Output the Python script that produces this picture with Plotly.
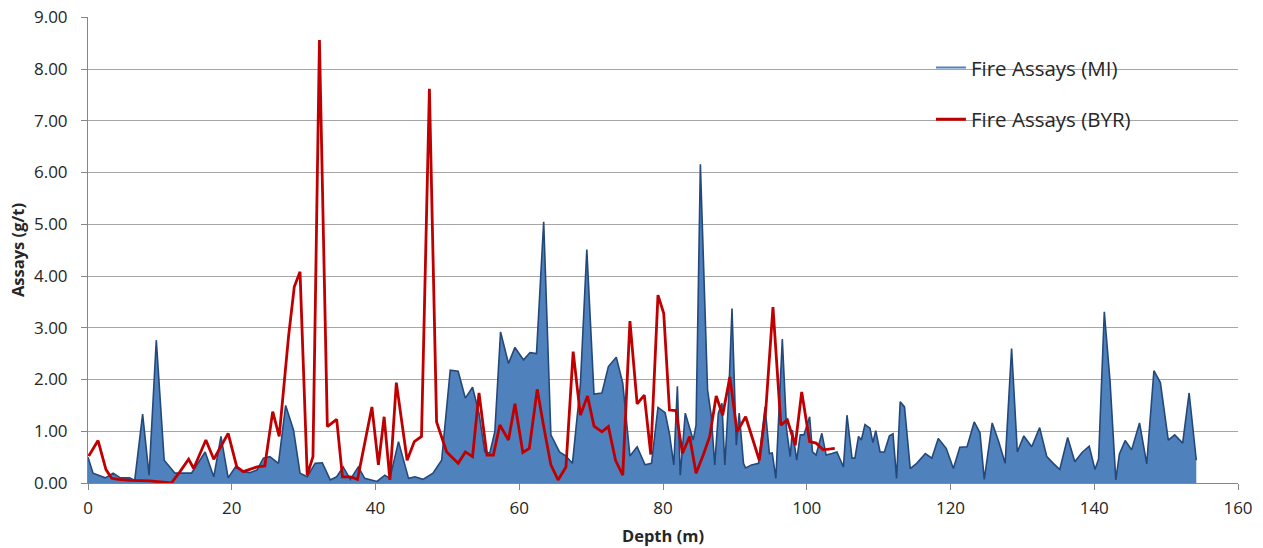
import plotly.graph_objects as go

# Fire Assays (MI) - depth (m) and assay (g/t)
mi_depth = [0.0, 0.7, 2.4, 3.5, 4.5, 5.8, 6.5, 7.6, 8.5, 9.5, 10.6, 12.1, 13.0, 14.4, 16.3, 17.5, 18.5, 19.5,
            20.5, 21.6, 22.5, 23.5, 24.4, 25.3, 26.5, 27.5, 28.6, 29.5, 30.5, 31.6, 32.6, 33.7, 34.6, 35.5,
            36.5, 37.6, 38.5, 40.2, 41.3, 42.0, 43.2, 44.6, 45.5, 46.6, 48.0, 49.2, 50.4, 51.5, 52.5, 53.5,
            54.4, 55.2, 55.9, 56.6, 57.4, 58.5, 59.4, 60.6, 61.5, 62.4, 63.4, 64.4, 65.6, 66.5, 67.4, 68.5,
            69.4, 70.4, 71.5, 72.4, 73.5, 74.4, 75.4, 76.4, 77.5, 78.4, 79.3, 80.3, 80.9, 81.5, 82.0, 82.4,
            83.1, 83.8, 84.2, 84.6, 85.2, 86.2, 86.7, 87.2, 87.7, 88.2, 88.6, 89.1, 89.6, 90.2, 90.6, 91.2,
            91.5, 92.3, 93.3, 94.2, 94.8, 95.2, 95.7, 96.6, 97.2, 97.7, 98.0, 98.6, 99.1, 99.6, 100.4, 100.8,
            101.3, 102.1, 102.7, 103.5, 104.2, 105.1, 105.6, 106.3, 106.7, 107.2, 107.6, 108.1, 108.8, 109.2,
            109.6, 110.2, 110.8, 111.5, 112.0, 112.5, 113.0, 113.6, 114.4, 115.3, 116.5, 117.4, 118.3, 119.4,
            120.4, 121.3, 122.3, 123.3, 124.1, 124.7, 125.8, 126.7, 127.6, 128.5, 129.3, 130.2, 131.3, 132.4,
            133.4, 134.3, 135.2, 136.3, 137.3, 138.3, 139.3, 140.1, 140.6, 141.4, 142.2, 143.0, 143.5, 144.3,
            145.2, 146.3, 147.3, 148.3, 149.2, 150.3, 151.2, 152.3, 153.2, 154.2]
mi_assay = [0.50, 0.19, 0.10, 0.19, 0.10, 0.10, 0.05, 1.33, 0.15, 2.76, 0.44, 0.19, 0.19, 0.19, 0.60, 0.12, 0.90, 0.10,
            0.31, 0.22, 0.20, 0.25, 0.48, 0.51, 0.38, 1.50, 1.02, 0.19, 0.12, 0.38, 0.39, 0.06, 0.12, 0.31,
            0.07, 0.31, 0.09, 0.03, 0.15, 0.09, 0.80, 0.09, 0.12, 0.07, 0.19, 0.44, 2.18, 2.16, 1.64, 1.85,
            1.35, 0.60, 0.58, 0.99, 2.92, 2.31, 2.62, 2.38, 2.52, 2.50, 5.05, 0.93, 0.60, 0.52, 0.38, 1.89,
            4.51, 1.72, 1.74, 2.25, 2.43, 1.93, 0.52, 0.70, 0.35, 0.38, 1.46, 1.36, 0.95, 0.35, 1.87, 0.15,
            1.35, 1.02, 0.83, 1.12, 6.16, 1.80, 1.31, 0.35, 1.35, 1.54, 0.35, 1.54, 3.37, 0.73, 1.35, 0.38,
            0.29, 0.35, 0.38, 1.47, 0.57, 0.58, 0.09, 2.78, 1.02, 0.51, 1.02, 0.44, 0.93, 0.93, 1.28, 0.60,
            0.54, 0.96, 0.54, 0.57, 0.60, 0.31, 1.31, 0.48, 0.48, 0.90, 0.83, 1.13, 1.06, 0.78,
            1.01, 0.60, 0.60, 0.91, 0.95, 0.09, 1.57, 1.47, 0.28, 0.38, 0.57, 0.48, 0.86, 0.67,
            0.28, 0.69, 0.70, 1.18, 0.97, 0.07, 1.16, 0.80, 0.38, 2.60, 0.60, 0.91, 0.70, 1.07,
            0.51, 0.38, 0.26, 0.88, 0.41, 0.59, 0.71, 0.26, 0.46, 3.31, 1.96, 0.06, 0.56, 0.82,
            0.64, 1.16, 0.37, 2.17, 1.94, 0.83, 0.93, 0.77, 1.74, 0.44]

# Fire Assays (BYR)
byr_depth = [0.1, 1.4, 2.5, 3.3, 4.2, 5.8, 8.6, 11.6, 12.8, 14.0, 14.7, 16.4, 17.5, 19.5, 20.7, 21.6, 23.5, 24.6,
             25.7, 26.6, 27.9, 28.7, 29.5, 30.5, 31.3, 32.2, 33.3, 34.6, 35.4, 36.5, 37.5, 39.5, 40.4, 41.2,
             42.0, 42.9, 44.4, 45.4, 46.4, 47.5, 48.5, 49.9, 51.5, 52.5, 53.5, 54.4, 55.5, 56.4, 57.3, 58.5,
             59.4, 60.5, 61.4, 62.5, 63.4, 64.4, 65.4, 66.5, 67.5, 68.5, 69.5, 70.4, 71.5, 72.4, 73.4, 74.4,
             75.4, 76.4, 77.4, 78.3, 79.3, 80.1, 80.9, 81.8, 82.7, 83.7, 84.6, 85.6, 86.5, 87.4, 88.3, 89.3,
             90.3, 91.5, 93.4, 94.3, 95.3, 96.4, 97.3, 98.4, 99.3, 100.4, 101.3, 102.3, 103.9]
byr_assay = [0.52, 0.82, 0.26, 0.09, 0.07, 0.05, 0.04, 0.00, 0.22, 0.46, 0.28, 0.83, 0.46, 0.96, 0.31, 0.22, 0.31, 0.33,
             1.38, 0.90, 2.83, 3.79, 4.08, 0.15, 0.51, 8.56, 1.09, 1.23, 0.12, 0.12, 0.07, 1.47, 0.35, 1.28,
             0.06, 1.94, 0.44, 0.80, 0.90, 7.62, 1.18, 0.60, 0.38, 0.60, 0.51, 1.74, 0.54, 0.54, 1.12, 0.83,
             1.53, 0.59, 0.67, 1.81, 1.09, 0.35, 0.06, 0.31, 2.54, 1.31, 1.68, 1.10, 0.99, 1.09, 0.44, 0.15,
             3.13, 1.53, 1.70, 0.55, 3.63, 3.28, 1.41, 1.40, 0.57, 0.90, 0.19, 0.54, 0.90, 1.68, 1.31, 2.05,
             0.99, 1.28, 0.44, 1.41, 3.40, 1.12, 1.22, 0.73, 1.76, 0.80, 0.77, 0.64, 0.67]

x_ticks = [0, 20, 40, 60, 80, 100, 120, 140, 160]
y_ticks = [0, 1, 2, 3, 4, 5, 6, 7, 8, 9]

FONT = "Open Sans"
TXT = "#262626"

fig = go.Figure()
fig.add_trace(go.Scatter(
    x=mi_depth, y=mi_assay, mode="lines", fill="tozeroy",
    fillcolor="#4F81BD", line=dict(color="#24487A", width=1.6),
    showlegend=False, name="Fire Assays (MI)"))
fig.add_trace(go.Scatter(
    x=[None], y=[None], mode="lines", line=dict(color="#4F81BD", width=2),
    name="Fire Assays (MI)", legendgroup="mi"))
fig.add_trace(go.Scatter(
    x=byr_depth, y=byr_assay, mode="lines",
    line=dict(color="#C00000", width=2.8),
    name="Fire Assays (BYR)", legendgroup="byr"))

# white legend backdrop hiding the gridlines behind the legend
fig.add_shape(type="rect", xref="paper", yref="paper", layer="between",
              x0=0.702, x1=0.938, y0=0.76, y1=0.96,
              fillcolor="white", line=dict(width=0))

fig.update_layout(
    width=1263, height=548,
    margin=dict(l=88, r=25, t=17, b=65),
    paper_bgcolor="white", plot_bgcolor="white",
    font=dict(family=FONT, size=17, color=TXT),
    legend=dict(
        x=0.733, y=0.934, xanchor="left", yanchor="top",
        bgcolor="rgba(255,255,255,0)", font=dict(family=FONT, size=20.5, color=TXT),
        traceorder="grouped", tracegroupgap=22,
    ),
    xaxis=dict(
        range=[0, 160], tickvals=x_ticks, showgrid=False, zeroline=False,
        showline=True, linecolor="#868686", linewidth=1, automargin=False,
        ticks="outside", ticklen=6, tickcolor="#868686", ticklabelstandoff=4,
        tickfont=dict(family=FONT, size=17, color=TXT),
        title=dict(text="<b>Depth (m)</b>", font=dict(family=FONT, size=16.5, color=TXT), standoff=12),
    ),
    yaxis=dict(
        range=[0, 9.005], tickvals=y_ticks, tickformat=".2f",
        showgrid=True, gridcolor="#A6A6A6", gridwidth=1, zeroline=False,
        showline=True, linecolor="#868686", linewidth=1, automargin=False,
        ticks="outside", ticklen=6, tickcolor="#868686", ticklabelstandoff=10,
        ticklabeloverflow="allow",
        tickfont=dict(family=FONT, size=17, color=TXT),
        title=dict(text="<b>Assays (g/t)</b>", font=dict(family=FONT, size=16.5, color=TXT), standoff=5),
    ),
)

# remove the default 8px page margin so the figure fills the window exactly
fig.write_html(
    "out.html",
    config={"displayModeBar": False},
    post_script="document.body.style.margin='0';document.body.style.overflow='hidden';",
)
